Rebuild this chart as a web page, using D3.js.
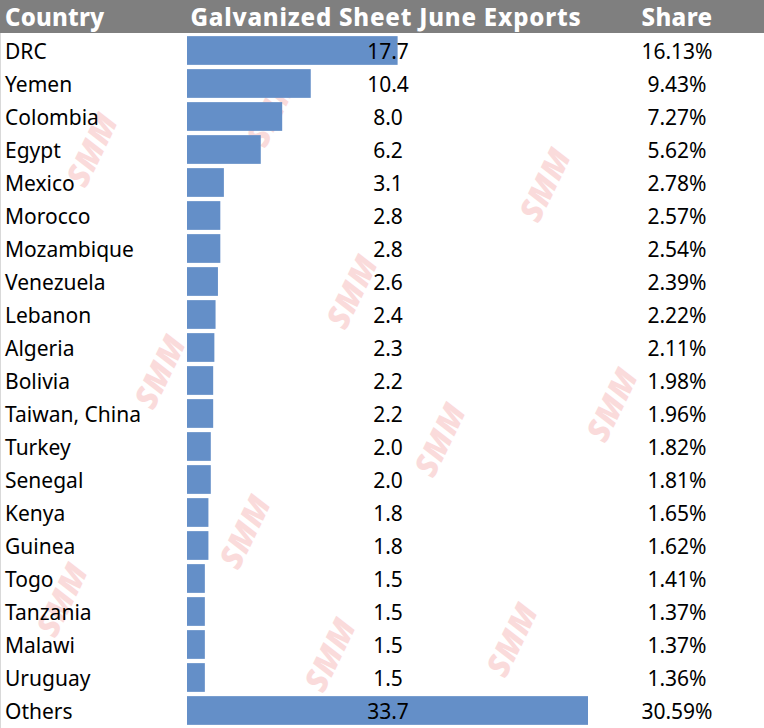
<!DOCTYPE html>
<html>
<head>
<meta charset="utf-8">
<script src="https://cdn.jsdelivr.net/npm/d3@7"></script>
<style>
  html, body { margin: 0; padding: 0; background: #fff; }
</style>
</head>
<body>
<div id="chart"></div>
<script>
const width = 764;
const height = 728;

const countries = ["DRC", "Yemen", "Colombia", "Egypt", "Mexico", "Morocco", "Mozambique",
  "Venezuela", "Lebanon", "Algeria", "Bolivia", "Taiwan, China", "Turkey", "Senegal",
  "Kenya", "Guinea", "Togo", "Tanzania", "Malawi", "Uruguay", "Others"];
const exportsJune = [17.7, 10.4, 8.0, 6.2, 3.1, 2.8, 2.8, 2.6, 2.4, 2.3, 2.2, 2.2, 2.0, 2.0,
  1.8, 1.8, 1.5, 1.5, 1.5, 1.5, 33.7];
const shares = ["16.13%", "9.43%", "7.27%", "5.62%", "2.78%", "2.57%", "2.54%", "2.39%",
  "2.22%", "2.11%", "1.98%", "1.96%", "1.82%", "1.81%", "1.65%", "1.62%", "1.41%",
  "1.37%", "1.37%", "1.36%", "30.59%"];
const headers = ["Country", "Galvanized Sheet June Exports", "Share"];

const data = countries.map(function(c, i) {
  return { country: c, value: exportsJune[i], share: shares[i] };
});

const headerH = 33;

const x = d3.scaleLinear()
  .domain([0, 33.7])
  .range([187, 588]);

const y = d3.scaleBand()
  .domain(countries)
  .range([headerH + 1, headerH + 1 + 33 * countries.length])
  .paddingInner(0.13)
  .paddingOuter(0.065);

const svg = d3.select("#chart")
  .append("svg")
  .attr("width", width)
  .attr("height", height)
  .style("font-family", "'Noto Sans', sans-serif");

svg.append("rect")
  .attr("width", width)
  .attr("height", height)
  .attr("fill", "#fff");

// header
svg.append("rect")
  .attr("x", 0)
  .attr("y", 0)
  .attr("width", width)
  .attr("height", headerH)
  .attr("fill", "#7f7f7f");

svg.append("line")
  .attr("x1", 0.5).attr("x2", 0.5)
  .attr("y1", headerH).attr("y2", height)
  .attr("stroke", "#d9d9d9");

const headerX = [5, 386, 677];
const headerAnchor = ["start", "middle", "middle"];
const headerSpacing = [0.2, 0.8, 0.4];
svg.selectAll("text.header")
  .data(headers)
  .enter()
  .append("text")
  .attr("class", "header")
  .attr("x", function(d, i) { return headerX[i]; })
  .attr("y", 26)
  .attr("text-anchor", function(d, i) { return headerAnchor[i]; })
  .attr("fill", "#fff")
  .style("font-size", "24px")
  .style("font-weight", "800")
  .style("letter-spacing", function(d, i) { return headerSpacing[i] + "px"; })
  .text(function(d) { return d; });

// watermarks
const marks = [[272, 110], [92, 150], [545, 185], [352, 292], [160, 372], [612, 405],
  [440, 440], [245, 532], [62, 600], [512, 640], [330, 655]];
svg.append("g")
  .selectAll("text")
  .data(marks)
  .enter()
  .append("text")
  .attr("transform", function(d) { return "translate(" + d[0] + "," + d[1] + ") rotate(-64)"; })
  .attr("text-anchor", "middle")
  .attr("dy", "0.35em")
  .attr("fill", "#f08080")
  .attr("opacity", 0.28)
  .style("font-size", "32px")
  .style("font-weight", "900")
  .style("font-style", "italic")
  .text("SMM");

const row = svg.append("g")
  .selectAll("g")
  .data(data)
  .enter()
  .append("g");

row.append("rect")
  .attr("x", x(0))
  .attr("y", function(d) { return y(d.country); })
  .attr("width", function(d) { return x(d.value) - x(0); })
  .attr("height", y.bandwidth())
  .attr("fill", "#648fc8");

row.append("text")
  .attr("x", 5)
  .attr("y", function(d) { return y(d.country) + y.bandwidth() / 2 + 8; })
  .attr("fill", "#000")
  .style("font-size", "21px")
  .text(function(d) { return d.country; });

row.append("text")
  .attr("x", 388)
  .attr("y", function(d) { return y(d.country) + y.bandwidth() / 2 + 8; })
  .attr("text-anchor", "middle")
  .attr("fill", "#000")
  .style("font-size", "21px")
  .text(function(d) { return d.value.toFixed(1); });

row.append("text")
  .attr("x", 677)
  .attr("y", function(d) { return y(d.country) + y.bandwidth() / 2 + 8; })
  .attr("text-anchor", "middle")
  .attr("fill", "#000")
  .style("font-size", "21px")
  .text(function(d) { return d.share; });
</script>
</body>
</html>
